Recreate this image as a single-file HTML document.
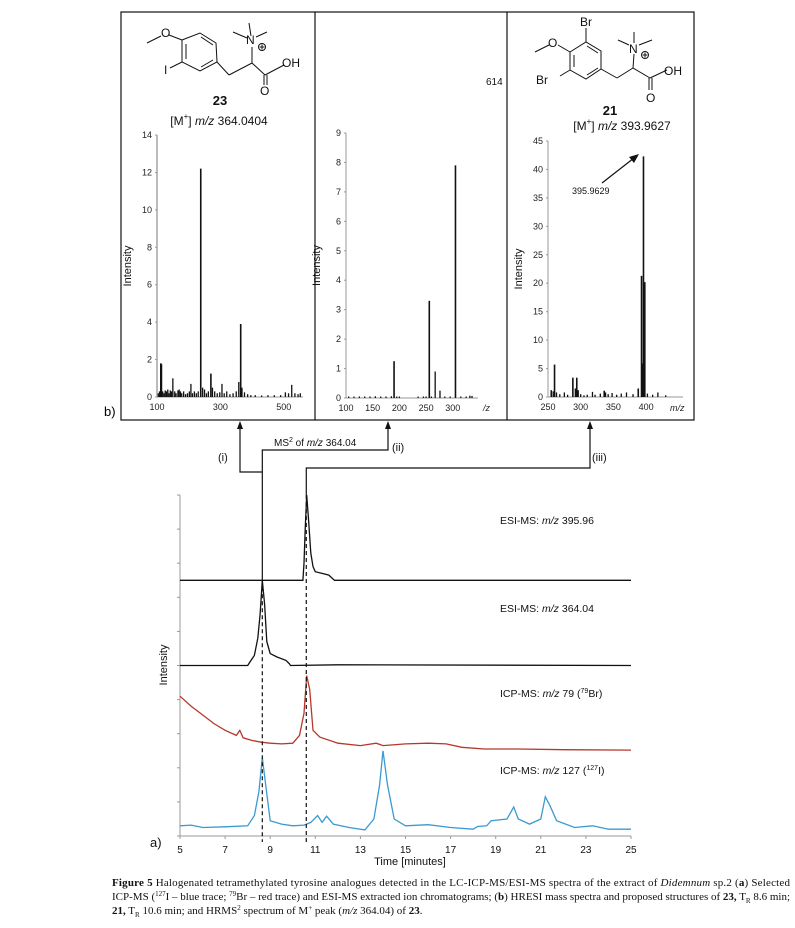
<!DOCTYPE html>
<html><head><meta charset="utf-8"><style>
html,body{margin:0;padding:0;background:#fff;width:795px;height:928px;overflow:hidden}
svg{display:block;font-family:"Liberation Sans",sans-serif}
.cap{font-family:"Liberation Serif",serif;font-size:11px;fill:#111}
</style></head><body>
<svg id="fig" width="795" height="928" viewBox="0 0 795 928" xmlns="http://www.w3.org/2000/svg">
<g id="panelB">
<rect x="121" y="12" width="573" height="408" fill="none" stroke="#111" stroke-width="1.2"/>
<line x1="315" y1="12" x2="315" y2="420" stroke="#111" stroke-width="1.2"/>
<line x1="507" y1="12" x2="507" y2="420" stroke="#111" stroke-width="1.2"/>
<text x="104" y="416" font-size="13">b)</text>
<!-- compound 23 -->
<g stroke="#111" stroke-width="1" fill="none">
<polygon points="182,40 200,33 216,43 217,62 200,71 182,62"/>
<line x1="186" y1="44" x2="186" y2="59"/><line x1="201" y1="37" x2="213" y2="45"/><line x1="201" y1="67" x2="213" y2="60"/>
<line x1="182" y1="40" x2="169" y2="35"/><line x1="161" y1="36" x2="147" y2="43"/>
<line x1="182" y1="62" x2="170" y2="68"/>
<line x1="217" y1="62" x2="229" y2="75"/><line x1="229" y1="75" x2="252" y2="63"/>
<line x1="252" y1="63" x2="252" y2="47"/><line x1="251" y1="36" x2="249" y2="23"/><line x1="247" y1="38" x2="233" y2="32"/><line x1="256" y1="37" x2="267" y2="32"/>
<line x1="252" y1="63" x2="265" y2="75"/><line x1="265" y1="75" x2="284" y2="65"/>
<line x1="264" y1="75" x2="264" y2="85"/><line x1="267" y1="75" x2="267" y2="85"/>
<circle cx="262" cy="47" r="3.5"/><line x1="259.5" y1="47" x2="264.5" y2="47"/><line x1="262" y1="44.5" x2="262" y2="49.5"/>
</g>
<g font-size="12" fill="#111">
<text x="161" y="37">O</text><text x="164" y="74">I</text><text x="246" y="44">N</text><text x="282" y="67">OH</text><text x="260" y="95">O</text>
<text x="220" y="105" text-anchor="middle" font-weight="bold" font-size="13">23</text>
<text x="219" y="125" text-anchor="middle" font-size="12">[M<tspan font-size="8" dy="-6">+</tspan><tspan dy="6">] </tspan><tspan font-style="italic">m/z</tspan> 364.0404</text>
</g>
<!-- compound 21 -->
<g stroke="#111" stroke-width="1" fill="none">
<polygon points="570,52 586,42 601,51 601,69 586,79 570,70"/>
<line x1="574" y1="55" x2="574" y2="67"/><line x1="587" y1="46" x2="598" y2="53"/><line x1="587" y1="75" x2="598" y2="68"/>
<line x1="586" y1="42" x2="586" y2="28"/><line x1="570" y1="52" x2="558" y2="45"/><line x1="549" y1="45" x2="535" y2="52"/>
<line x1="570" y1="70" x2="560" y2="76"/>
<line x1="601" y1="69" x2="617" y2="78"/><line x1="617" y1="78" x2="633" y2="68"/>
<line x1="633" y1="68" x2="634" y2="54"/><line x1="634" y1="43" x2="634" y2="32"/><line x1="629" y1="45" x2="618" y2="40"/><line x1="639" y1="45" x2="652" y2="40"/>
<line x1="633" y1="68" x2="650" y2="78"/><line x1="650" y1="78" x2="667" y2="70"/>
<line x1="649" y1="78" x2="649" y2="90"/><line x1="652" y1="78" x2="652" y2="90"/>
<circle cx="645" cy="55" r="3.5"/><line x1="642.5" y1="55" x2="647.5" y2="55"/><line x1="645" y1="52.5" x2="645" y2="57.5"/>
</g>
<g font-size="12" fill="#111">
<text x="580" y="26">Br</text><text x="548" y="47">O</text><text x="536" y="84">Br</text><text x="629" y="53">N</text><text x="664" y="75">OH</text><text x="646" y="102">O</text>
<text x="610" y="115" text-anchor="middle" font-weight="bold" font-size="13">21</text>
<text x="622" y="130" text-anchor="middle" font-size="12">[M<tspan font-size="8" dy="-6">+</tspan><tspan dy="6">] </tspan><tspan font-style="italic">m/z</tspan> 393.9627</text>
</g>
<text x="486" y="85" font-size="10" fill="#111">614</text>
<text x="572" y="194" font-size="9" fill="#111">395.9629</text>
<line x1="602" y1="183" x2="634" y2="158" stroke="#111" stroke-width="1.2"/>
<polygon points="639,154 629,157 634,163" fill="#111"/>
<g id="spec1"></g><g id="spec2"></g><g id="spec3"></g>
</g>

<g id="panelA"></g>

<g>
<text class="cap" x="112" y="886" textLength="678" lengthAdjust="spacing"><tspan font-weight="bold">Figure 5</tspan>  Halogenated tetramethylated tyrosine analogues detected in the LC-ICP-MS/ESI-MS spectra of the extract of <tspan font-style="italic">Didemnum</tspan> sp.2 (<tspan font-weight="bold">a</tspan>) Selected</text>
<text class="cap" x="112" y="900" textLength="678" lengthAdjust="spacing">ICP-MS (<tspan font-size="7" dy="-4">127</tspan><tspan dy="4">I – blue trace; </tspan><tspan font-size="7" dy="-4">79</tspan><tspan dy="4">Br – red trace) and ESI-MS extracted ion chromatograms; (</tspan><tspan font-weight="bold">b</tspan>) HRESI mass spectra and proposed structures of <tspan font-weight="bold">23,</tspan> T<tspan font-size="7" dy="3">R</tspan><tspan dy="-3"> 8.6 min;</tspan></text>
<text class="cap" x="112" y="914"><tspan font-weight="bold">21,</tspan> T<tspan font-size="7" dy="3">R</tspan><tspan dy="-3"> 10.6 min; and HRMS</tspan><tspan font-size="7" dy="-4">2</tspan><tspan dy="4"> spectrum of M</tspan><tspan font-size="7" dy="-4">+</tspan><tspan dy="4"> peak (</tspan><tspan font-style="italic">m/z</tspan> 364.04) of <tspan font-weight="bold">23</tspan>.</text>
</g>
</svg>
<script>
// ---------- Spectrum data ----------
const spec1Mz = [104,108,112,114,118,122,126,130,134,138,142,146,150,156,160,166,170,174,178,184,190,196,202,207,212,218,224,230,238,244,250,256,262,270,275,282,290,298,305,312,320,330,340,350,358,364,368,376,386,396,410,430,450,470,490,505,515,525,535,545,552];
const spec1Int = [0.2,0.3,1.8,1.75,0.3,0.2,0.35,0.3,0.4,0.2,0.35,0.3,1.0,0.3,0.2,0.35,0.4,0.3,0.2,0.3,0.15,0.2,0.3,0.7,0.2,0.3,0.2,0.3,12.2,0.5,0.4,0.2,0.3,1.25,0.5,0.3,0.2,0.25,0.7,0.2,0.3,0.15,0.2,0.3,0.8,3.9,0.5,0.25,0.15,0.1,0.1,0.08,0.1,0.1,0.1,0.25,0.2,0.65,0.2,0.15,0.2];
const spec1Ticks = [100,300,500];
const spec1YTicks = [0,2,4,6,8,10,12,14];

const spec2Mz = [105,115,125,135,145,155,165,175,185,190,195,200,235,245,250,256,260,267,276,285,295,305,315,325,332,336];
const spec2Int = [0.05,0.05,0.05,0.05,0.05,0.06,0.05,0.05,0.06,1.25,0.05,0.05,0.05,0.05,0.05,3.3,0.05,0.9,0.25,0.05,0.05,7.9,0.05,0.05,0.08,0.07];
const spec2Ticks = [100,150,200,250,300];
const spec2YTicks = [0,1,2,3,4,5,6,7,8,9];

const spec3Mz = [255,258,260,263,268,275,280,288,292,294,296,300,305,310,318,322,330,336,338,342,348,355,362,370,380,388,393,394,396,398,402,410,418,430];
const spec3Int = [1.2,1.0,5.7,0.8,0.5,0.8,0.4,3.4,1.5,3.4,1.2,0.5,0.3,0.4,0.9,0.4,0.6,1.1,0.8,0.5,0.7,0.4,0.6,0.8,0.5,1.5,21.3,5.9,42.3,20.2,0.6,0.4,0.8,0.3];
const spec3Ticks = [250,300,350,400];
const spec3YTicks = [0,5,10,15,20,25,30,35,40,45];

// ---------- Chromatogram data (intensity in axis units 0..10) ----------
const esi396Time = [5,10.4,10.45,10.5,10.55,10.62,10.7,10.8,10.9,11.0,11.3,11.6,11.85,25];
const esi396Val  = [7.5,7.5,7.5,8.0,9.0,10.0,9.3,8.3,7.9,7.75,7.7,7.65,7.5,7.5];
const esi364Time = [5,8.0,8.15,8.3,8.45,8.55,8.65,8.75,8.85,9.0,9.3,9.7,9.85,9.9,12,25];
const esi364Val  = [5,5,5.15,5.3,5.8,6.5,7.5,6.8,5.7,5.35,5.25,5.15,5.05,5.0,5.02,5];
const brTime = [5,5.5,6,6.5,7,7.5,7.65,7.8,8.2,8.6,9,9.5,10,10.3,10.5,10.62,10.75,10.9,11.2,12,13,13.7,14,15,16,16.8,17.5,18.5,20,22,25];
const brVal  = [4.1,3.8,3.55,3.3,3.1,2.95,3.1,2.88,2.8,2.75,2.72,2.7,2.72,2.95,3.6,4.7,4.3,3.1,2.9,2.72,2.65,2.72,2.65,2.7,2.72,2.7,2.6,2.55,2.55,2.53,2.52];
const iTime = [5,5.5,6,7,8,8.3,8.5,8.65,8.8,9,9.5,10,10.5,10.8,11.1,11.3,11.5,11.8,12.5,13.2,13.6,13.85,14.0,14.2,14.5,15,16,17,18,18.2,18.6,18.8,19.5,19.8,20,20.5,21,21.2,21.4,21.7,22.5,23.3,24,25];
const iVal  = [0.3,0.32,0.25,0.27,0.3,0.6,1.3,2.3,1.5,0.45,0.35,0.3,0.32,0.4,0.6,0.4,0.58,0.35,0.25,0.18,0.5,1.5,2.5,1.5,0.5,0.3,0.33,0.25,0.2,0.28,0.3,0.45,0.5,0.85,0.5,0.35,0.5,1.15,0.9,0.45,0.25,0.3,0.2,0.2];
const timeTicks = [5,7,9,11,13,15,17,19,21,23,25];

const NS='http://www.w3.org/2000/svg';
function mk(parent,tag,attrs,txt){const e=document.createElementNS(NS,tag);for(const k in attrs)e.setAttribute(k,attrs[k]);if(txt!==undefined)e.textContent=txt;parent.appendChild(e);return e;}

function drawSpectrum(gid,cfg,mz,ints,xt,yt){
  const g=document.getElementById(gid);
  const sx=v=>cfg.x0+(v-cfg.m0)*cfg.kx;
  const sy=v=>cfg.y0-(v/cfg.ymax)*(cfg.y0-cfg.y1);
  const ax=mk(g,'line',{x1:cfg.x0,y1:cfg.y0,x2:cfg.x0,y2:cfg.y1,stroke:cfg.axc,'stroke-width':cfg.axw});
  
  
  const bx=mk(g,'line',{x1:cfg.x0,y1:cfg.y0,x2:cfg.xend,y2:cfg.y0,stroke:'#999','stroke-width':1});
  
  
  yt.forEach(v=>{
    const t=mk(g,'text',{x:cfg.x0-5,y:sy(v)+3,'font-size':9,'text-anchor':'end',fill:'#222'},String(v));
    
    
    mk(g,'line',{x1:cfg.x0-2,y1:sy(v),x2:cfg.x0,y2:sy(v),stroke:'#999'});
  });
  xt.forEach(v=>{
    const t=mk(g,'text',{x:sx(v),y:cfg.y0+13,'font-size':9,'text-anchor':'middle',fill:'#222'},String(v));
    
    
  });
  mz.forEach((m,i)=>{
    const b=mk(g,'line',{x1:sx(m),y1:cfg.y0,x2:sx(m),y2:sy(ints[i]),stroke:'#111','stroke-width':ints[i]>1?1.6:1.3});
    
    
  });
  const yl=mk(g,'text',{x:0,y:0,'font-size':11,'text-anchor':'middle',fill:'#111',transform:`translate(${cfg.x0-26},${(cfg.y0+cfg.y1)/2}) rotate(-90)`},'Intensity');
  
  
}
drawSpectrum('spec1',{x0:157,m0:100,kx:0.317,y0:397,y1:135,ymax:14,xend:303,axc:'#bbb',axw:2},spec1Mz,spec1Int,spec1Ticks,spec1YTicks);
drawSpectrum('spec2',{x0:346,m0:100,kx:0.534,y0:398,y1:133,ymax:9,xend:478,axc:'#999',axw:1},spec2Mz,spec2Int,spec2Ticks,spec2YTicks);
drawSpectrum('spec3',{x0:548,m0:250,kx:0.654,y0:397,y1:141,ymax:45,xend:683,axc:'#999',axw:1},spec3Mz,spec3Int,spec3Ticks,spec3YTicks);
(function(){const g=document.getElementById('spec2');const t=mk(g,'text',{x:483,y:411,'font-size':9,'font-style':'italic',fill:'#222'},'/z');
const g3=document.getElementById('spec3');const t3=mk(g3,'text',{x:670,y:411,'font-size':9,'font-style':'italic',fill:'#222'},'m/z');})();

// ---------- Panel A ----------
const A=document.getElementById('panelA');
const X0=180,KX=22.55,Y0=836,KY=34.1;
const tx=t=>X0+(t-5)*KX;
const vy=v=>Y0-v*KY;
const yax=mk(A,'line',{x1:X0,y1:vy(10),x2:X0,y2:Y0,stroke:'#999'});


const xax=mk(A,'line',{x1:X0,y1:Y0,x2:tx(25),y2:Y0,stroke:'#999'});


for(let i=0;i<=10;i++){mk(A,'line',{x1:X0-3,y1:vy(i),x2:X0,y2:vy(i),stroke:'#999'});}
timeTicks.forEach(t=>{
  mk(A,'line',{x1:tx(t),y1:Y0,x2:tx(t),y2:Y0+3,stroke:'#999'});
  const l=mk(A,'text',{x:tx(t),y:Y0+17,'font-size':10,'text-anchor':'middle',fill:'#111'},String(t));
  
  
});
const xt=mk(A,'text',{x:410,y:865,'font-size':11,'text-anchor':'middle',fill:'#111'},'Time [minutes]');


const yt=mk(A,'text',{x:0,y:0,'font-size':11,'text-anchor':'middle',fill:'#111',transform:'translate(167,665) rotate(-90)'},'Intensity');


const al=mk(A,'text',{x:150,y:847,'font-size':13,fill:'#111'},'a)');



function trace(ts,vs,color,name){
  const d=ts.map((t,i)=>(i?'L':'M')+tx(t).toFixed(1)+','+vy(vs[i]).toFixed(1)).join(' ');
  const p=mk(A,'path',{d:d,fill:'none',stroke:color,'stroke-width':1.3});
  
  
}
trace(esi396Time,esi396Val,'#111','esi-ms-395-trace');
trace(esi364Time,esi364Val,'#111','esi-ms-364-trace');
trace(brTime,brVal,'#b5382b','icp-ms-br79-trace');
trace(iTime,iVal,'#3a9ad0','icp-ms-i127-trace');

// dashed retention lines
const d1=mk(A,'line',{x1:tx(8.65),y1:vy(7.5),x2:tx(8.65),y2:Y0+6,stroke:'#111','stroke-dasharray':'4,3','stroke-width':1.2});


const d2=mk(A,'line',{x1:tx(10.6),y1:vy(10),x2:tx(10.6),y2:Y0+6,stroke:'#111','stroke-dasharray':'4,3','stroke-width':1.2});



// connector arrows
function path(d,name){const p=mk(A,'path',{d:d,fill:'none',stroke:'#111','stroke-width':1.2});}
function head(x,name){const p=mk(A,'polygon',{points:`${x},421 ${x-3},429 ${x+3},429`,fill:'#111'});}
const xi=tx(8.65), xiii=tx(10.6);
path(`M240,425 L240,472 L${xi},472`,'connector-i');head(240,'arrow-i');
path(`M${xi},580 L${xi},450 L388,450 L388,425`,'connector-ii');head(388,'arrow-ii');
path(`M${xiii},${vy(10)} L${xiii},468 L590,468 L590,425`,'connector-iii');head(590,'arrow-iii');
const lab=(x,y,s,n)=>{const t=mk(A,'text',{x:x,y:y,'font-size':11,fill:'#111'},s);return t;};
lab(218,461,'(i)','label-i');lab(392,451,'(ii)','label-ii');lab(592,461,'(iii)','label-iii');
const ms2=mk(A,'text',{x:274,y:446,'font-size':10,fill:'#111'});


ms2.innerHTML='MS<tspan font-size="7" dy="-4">2</tspan><tspan dy="4"> of </tspan><tspan font-style="italic">m/z</tspan> 364.04';

const tl=(y,html,n)=>{const t=mk(A,'text',{x:500,y:y,'font-size':10.5,fill:'#111'});t.innerHTML=html;};
tl(524,'ESI-MS: <tspan font-style="italic">m/z</tspan> 395.96','label-esi-395');
tl(612,'ESI-MS: <tspan font-style="italic">m/z</tspan> 364.04','label-esi-364');
tl(697,'ICP-MS: <tspan font-style="italic">m/z</tspan> 79 (<tspan font-size="7" dy="-4">79</tspan><tspan dy="4">Br)</tspan>','label-icp-br');
tl(774,'ICP-MS: <tspan font-style="italic">m/z</tspan> 127 (<tspan font-size="7" dy="-4">127</tspan><tspan dy="4">I)</tspan>','label-icp-i');
</script>
</body></html>
